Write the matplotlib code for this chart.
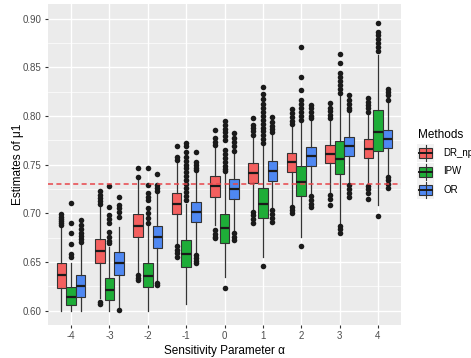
import matplotlib
matplotlib.use("Agg")
import matplotlib.pyplot as plt
from matplotlib.patches import Rectangle
import numpy as np

plt.rcParams['font.family'] = ['Liberation Sans', 'DejaVu Sans']

# sensitivity parameter values (x categories)
alphas = ["-4", "-3", "-2", "-1", "0", "1", "2", "3", "4"]
methods = ["DR_np", "IPW", "OR"]
colors = ["#F4605F", "#1EAD38", "#4F88F2"]

# box statistics, one list per method
dr_q1 = [0.6236, 0.6487, 0.6754, 0.6993, 0.717, 0.7308, 0.7427, 0.7513, 0.757]
dr_med = [0.637, 0.6613, 0.6867, 0.7099, 0.728, 0.7414, 0.7524, 0.7609, 0.7663]
dr_q3 = [0.6487, 0.6733, 0.699, 0.7211, 0.7383, 0.752, 0.7622, 0.770, 0.776]
dr_lo = [0.600, 0.6127, 0.638, 0.6657, 0.688, 0.7034, 0.7085, 0.7205, 0.7308]
dr_hi = [0.6846, 0.7085, 0.734, 0.753, 0.768, 0.7787, 0.7907, 0.7958, 0.8027]
dr_out = [
    [0.688, 0.690, 0.692, 0.694, 0.696, 0.699],
    [0.710, 0.713, 0.716, 0.719, 0.723, 0.609, 0.607],
    [0.737, 0.747, 0.6367, 0.634, 0.6315],
    [0.755, 0.758, 0.769, 0.666, 0.662, 0.659, 0.655],
    [0.770, 0.773, 0.777, 0.7855, 0.6828, 0.679, 0.676, 0.6743],
    [0.780, 0.784, 0.788, 0.7907, 0.7975, 0.7016, 0.698, 0.694, 0.6897],
    [0.7917, 0.795, 0.799, 0.8027, 0.8068, 0.7068, 0.703, 0.700],
    [0.798, 0.801, 0.805, 0.808, 0.813, 0.7188, 0.715, 0.7085],
    [0.8043, 0.808, 0.8113, 0.8146, 0.818, 0.7283, 0.725, 0.721, 0.7147],
]

ipw_q1 = [0.6058, 0.611, 0.624, 0.645, 0.670, 0.6949, 0.7178, 0.740, 0.764]
ipw_med = [0.614, 0.621, 0.636, 0.6585, 0.6846, 0.7093, 0.7318, 0.7558, 0.7832]
ipw_q3 = [0.624, 0.6333, 0.6493, 0.6726, 0.6993, 0.7257, 0.7489, 0.7742, 0.806]
ipw_lo = [0.600, 0.600, 0.600, 0.607, 0.635, 0.6555, 0.676, 0.6897, 0.7085]
ipw_hi = [0.649, 0.6657, 0.688, 0.710, 0.741, 0.770, 0.7958, 0.8215, 0.8625]
ipw_out = [
    [0.711, 0.690, 0.680, 0.668, 0.658, 0.655],
    [0.728, 0.706, 0.698, 0.694, 0.690, 0.681, 0.676, 0.672, 0.669],
    [0.747, 0.729, 0.721, 0.717, 0.714, 0.705, 0.700, 0.695, 0.690],
    [0.772, 0.769, 0.763, 0.758, 0.754, 0.750, 0.746, 0.742, 0.738,
     0.734, 0.730, 0.726, 0.722, 0.718, 0.714],
    [0.795, 0.791, 0.787, 0.783, 0.779, 0.775, 0.765, 0.761, 0.757,
     0.753, 0.749, 0.745, 0.743, 0.623],
    [0.830, 0.822, 0.817, 0.812, 0.808, 0.804, 0.800, 0.796, 0.792,
     0.788, 0.784, 0.780, 0.776, 0.772, 0.646],
    [0.871, 0.840, 0.827, 0.816, 0.812, 0.808, 0.804, 0.800, 0.796, 0.666],
    [0.8636, 0.854, 0.8437, 0.840, 0.836, 0.832, 0.828, 0.824,
     0.687, 0.6835, 0.6795],
    [0.895, 0.8865, 0.883, 0.879, 0.875, 0.871, 0.867, 0.6972],
]

or_q1 = [0.6144, 0.6367, 0.6647, 0.6908, 0.7144, 0.7335, 0.7486, 0.7591, 0.7667]
or_med = [0.6257, 0.649, 0.676, 0.7013, 0.725, 0.7437, 0.7588, 0.769, 0.7766]
or_q3 = [0.6363, 0.6606, 0.6873, 0.7119, 0.7352, 0.7537, 0.768, 0.7783, 0.7852]
or_lo = [0.600, 0.604, 0.6315, 0.659, 0.681, 0.705, 0.7188, 0.7308, 0.7393]
or_hi = [0.6726, 0.686, 0.7205, 0.7427, 0.763, 0.782, 0.7958, 0.8043, 0.8146]
or_out = [
    [0.693, 0.688, 0.684, 0.680, 0.677, 0.674, 0.671],
    [0.717, 0.7085, 0.705, 0.701, 0.6965, 0.6007],
    [0.740, 0.729, 0.726, 0.723, 0.628, 0.626],
    [0.7626, 0.753, 0.750, 0.747, 0.744, 0.657, 0.654, 0.651, 0.6487],
    [0.782, 0.777, 0.773, 0.769, 0.764, 0.6795, 0.676, 0.6726],
    [0.7986, 0.794, 0.790, 0.787, 0.7838, 0.703, 0.699, 0.695, 0.6914],
    [0.8112, 0.8078, 0.804, 0.800, 0.7975, 0.7178, 0.714, 0.710, 0.7068],
    [0.8215, 0.8163, 0.812, 0.808, 0.806, 0.729, 0.725, 0.721, 0.717],
    [0.8276, 0.8249, 0.821, 0.8163, 0.7376, 0.734, 0.730, 0.7257],
]

true_value = 0.73

stats = [
    (dr_q1, dr_med, dr_q3, dr_lo, dr_hi, dr_out),
    (ipw_q1, ipw_med, ipw_q3, ipw_lo, ipw_hi, ipw_out),
    (or_q1, or_med, or_q3, or_lo, or_hi, or_out),
]

fig = plt.figure(figsize=(4.71, 3.58), dpi=100)
ax = fig.add_axes([48 / 471, 33 / 358, 353 / 471, 321 / 358])
ax.set_facecolor("#EBEBEB")
for s in ax.spines.values():
    s.set_visible(False)

# ggplot-like grid
ax.set_axisbelow(True)
ax.set_yticks(np.arange(0.60, 0.901, 0.05))
ax.set_yticks(np.arange(0.625, 0.9, 0.05), minor=True)
ax.grid(True, which="major", color="white", lw=1.0)
ax.grid(True, which="minor", axis="y", color="white", lw=0.5)
ax.tick_params(which="minor", length=0)

x = np.arange(len(alphas))
box_w = 0.25
offsets = [-0.25, 0.0, 0.25]
edge = "#333333"

for k, (q1, med, q3, lo, hi, out) in enumerate(stats):
    bx = []
    for i in range(len(alphas)):
        bx.append(dict(q1=q1[i], med=med[i], q3=q3[i], whislo=lo[i],
                       whishi=hi[i], fliers=out[i]))
    ax.bxp(bx, positions=x + offsets[k], widths=box_w, patch_artist=True,
           showcaps=False, manage_ticks=False,
           boxprops=dict(facecolor=colors[k], edgecolor=edge, lw=0.8),
           medianprops=dict(color="#1A1A1A", lw=1.6),
           whiskerprops=dict(color=edge, lw=0.9),
           flierprops=dict(marker="o", markersize=4.0, markerfacecolor="#1A1A1A",
                           markeredgecolor="none"))

ax.axhline(true_value, color="#E8454A", lw=1.1, ls=(0, (3.3, 2.2)), zorder=5)

ax.set_xlim(-0.6, len(alphas) - 0.4)
ax.set_ylim(0.5853, 0.9149)
ax.set_xticks(x)
ax.set_xticklabels(alphas)
ax.set_yticklabels(["%.2f" % v for v in np.arange(0.60, 0.901, 0.05)])
ax.tick_params(axis="both", which="major", length=2.5, width=0.8, color="#333333",
               labelcolor="#4D4D4D", labelsize=7, pad=2)

ax.set_xlabel("Sensitivity Parameter α", fontsize=8.5, color="black", labelpad=3)
ax.set_ylabel("Estimates of μ1", fontsize=8.5, color="black", labelpad=-1)

# legend drawn as small ggplot-style keys
fig.text(418 / 471, 1 - 135 / 358, "Methods", fontsize=8.5, va="center", ha="left")
lax = fig.add_axes([417 / 471, 1 - 200 / 358, 50 / 471, 56 / 358])
lax.set_xlim(0, 50)
lax.set_ylim(56, 0)
lax.axis("off")
for k, m in enumerate(methods):
    yc = 9 + k * 18.5
    lax.add_patch(Rectangle((0, yc - 9), 17, 18, facecolor="#F2F2F2", edgecolor="none"))
    lax.plot([8.5, 8.5], [yc - 8, yc + 8], color=edge, lw=0.8)
    lax.add_patch(Rectangle((2, yc - 5), 13, 10, facecolor=colors[k], edgecolor=edge, lw=0.8))
    lax.plot([2, 15], [yc, yc], color="#1A1A1A", lw=1.4)
    fig.text(443 / 471, 1 - (135 + 18 + k * 18.5) / 358, m, fontsize=7,
             va="center", ha="left", color="black")

fig.savefig("out.png", dpi=100)
